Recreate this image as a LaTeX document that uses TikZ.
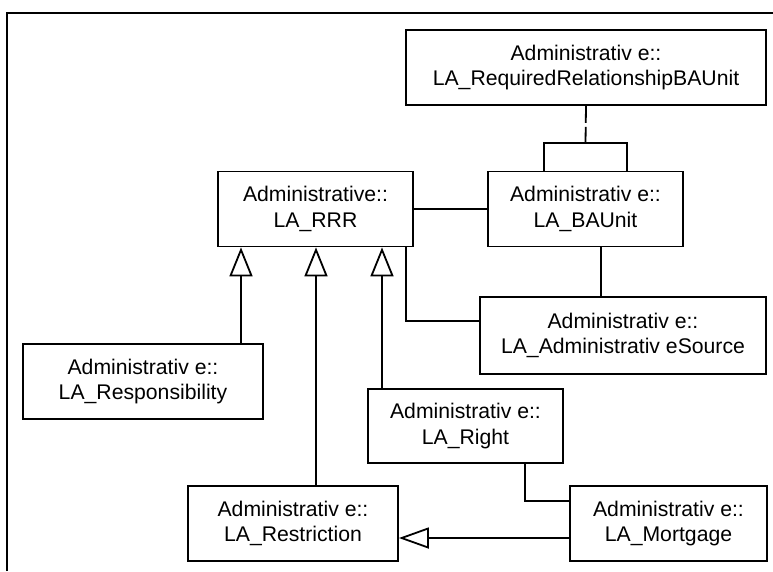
\documentclass[tikz,border=0pt]{standalone}
\usepackage{fontspec}
\setmainfont{Liberation Sans}
\usetikzlibrary{arrows.meta}
\begin{document}
\begin{tikzpicture}[x=1pt,y=-1pt,
  line width=1.8pt,
  cls/.style={draw, rectangle, inner sep=0pt, align=center,
    font=\fontsize{21.2}{25.5}\selectfont},
  gen/.style={-{Triangle[open, length=29pt, width=23pt]}},
  gen2/.style={-{Triangle[open, length=30pt, width=21pt]}},
  dep/.style={dash pattern=on 17pt off 4pt}]
\useasboundingbox (0,0) rectangle (773,571);

% frame (top and left edges)
\draw (7,571) -- (7,13) -- (773,13);

% classes
\node[cls, minimum width=360pt, minimum height=75pt] (req) at (586,67.5)
  {Administrativ e::\\LA\_RequiredRelationshipBAUnit};
\node[cls, minimum width=195pt, minimum height=75pt] (rrr) at (315.5,209)
  {Administrative::\\LA\_RRR};
\node[cls, minimum width=195pt, minimum height=75pt] (ba) at (585.5,209)
  {Administrativ e::\\LA\_BAUnit};
\node[cls, minimum width=286pt, minimum height=77pt] (src) at (623,335.5)
  {Administrativ e::\\LA\_Administrativ eSource};
\node[cls, minimum width=240pt, minimum height=75pt] (resp) at (143,381.5)
  {Administrativ e::\\LA\_Responsibility};
\node[cls, minimum width=195pt, minimum height=74pt] (right) at (465.5,426)
  {Administrativ e::\\LA\_Right};
\node[cls, minimum width=210pt, minimum height=75pt] (restr) at (293,523.5)
  {Administrativ e::\\LA\_Restriction};
\node[cls, minimum width=197pt, minimum height=75pt] (mort) at (668.5,523.5)
  {Administrativ e::\\LA\_Mortgage};

% association class link
\coordinate (brk) at (585.5,143);
\draw[dep] (req.south) -- (brk);
\draw ([xshift=-41.5pt]ba.north) |- (brk) -| ([xshift=41.5pt]ba.north);

% associations
\draw (rrr.east) -- (ba.west);
\draw ([xshift=15.5pt]ba.south) -- ([xshift=15.5pt]ba.south |- src.north);
\draw (rrr.south -| 406,0) |- ([yshift=14.5pt]src.west);
\draw ([xshift=59.5pt]right.south) |- ([yshift=22.5pt]mort.west);

% generalizations
\draw[gen] (resp.north -| 241,0) -- (rrr.south -| 241,0);
\draw[gen] (restr.north -| 316,0) -- (rrr.south -| 316,0);
\draw[gen] (right.north -| 382,0) -- (rrr.south -| 382,0);
\draw[gen2] ([yshift=-14.5pt]mort.west) -- ([yshift=-14.5pt]mort.west -| restr.east);
\end{tikzpicture}
\end{document}
